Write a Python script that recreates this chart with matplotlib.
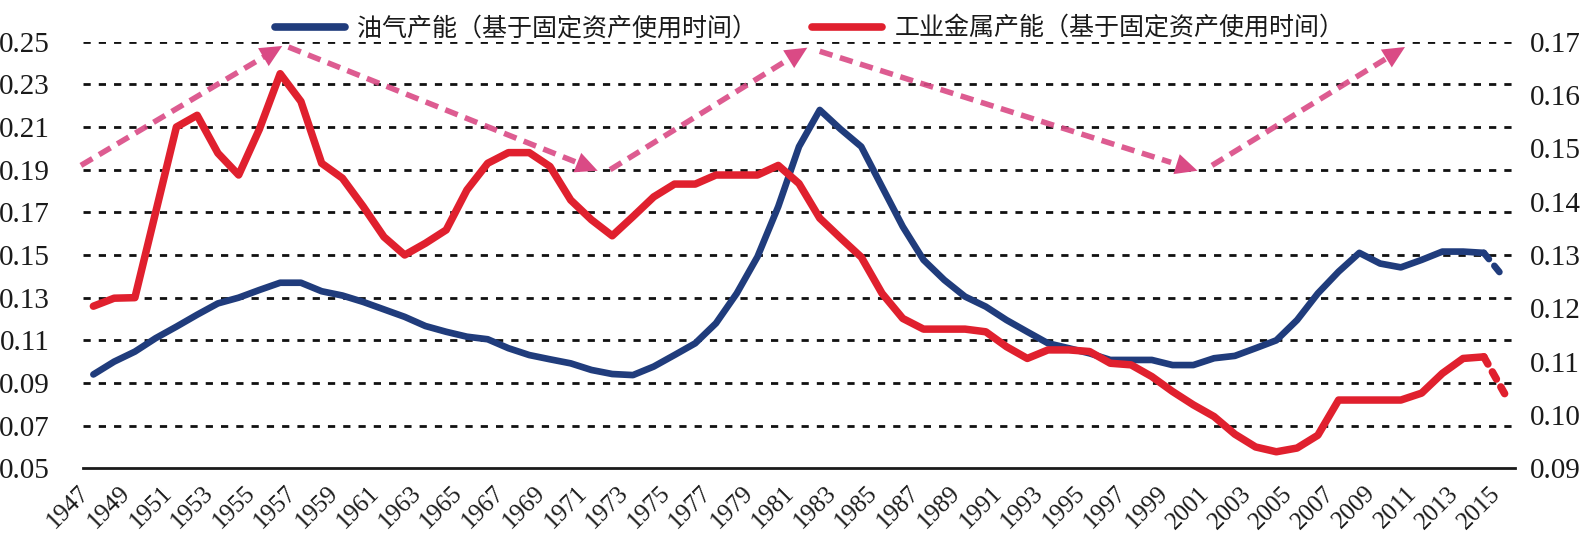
import matplotlib
matplotlib.use("Agg")
import matplotlib.pyplot as plt
from matplotlib.font_manager import FontProperties
import numpy as np

# ---------------- data ----------------
years = list(range(1947, 2016))

# 油气产能 (left axis)
oil_gas = [0.094, 0.100, 0.1047, 0.111, 0.1164, 0.122, 0.1273, 0.130, 0.1336, 0.137,
           0.137, 0.133, 0.131, 0.128, 0.1245, 0.121, 0.1167, 0.114, 0.1117, 0.1105,
           0.1063, 0.1031, 0.1011, 0.0992, 0.0961, 0.0942, 0.0937, 0.0977, 0.1031, 0.1086,
           0.118, 0.132, 0.1492, 0.1727, 0.2008, 0.218, 0.209, 0.2008, 0.182, 0.1633,
           0.1477, 0.1383, 0.1305, 0.1258, 0.1195, 0.114, 0.1086, 0.1063, 0.1039, 0.1008,
           0.1008, 0.1008, 0.0984, 0.0984, 0.1016, 0.1027, 0.1063, 0.110, 0.1195, 0.132,
           0.1422, 0.151, 0.146, 0.1442, 0.1477, 0.1516, 0.1516, 0.151, 0.139]

# 工业金属产能 (right axis)
metals = [0.1204, 0.1219, 0.1220, 0.1380, 0.1540, 0.1562, 0.1491, 0.1450, 0.1536, 0.1640,
          0.1588, 0.1472, 0.1444, 0.1391, 0.1334, 0.1300, 0.1322, 0.1347, 0.1422, 0.1472,
          0.1492, 0.1492, 0.1466, 0.1403, 0.1366, 0.1336, 0.1372, 0.1409, 0.1433, 0.1433,
          0.1450, 0.1450, 0.1450, 0.1468, 0.1434, 0.1369, 0.1332, 0.1296, 0.1228, 0.1181,
          0.1161, 0.1161, 0.1161, 0.1156, 0.1128, 0.1106, 0.1122, 0.1122, 0.1119, 0.1097,
          0.1094, 0.1072, 0.1044, 0.1019, 0.0997, 0.0964, 0.0940, 0.0931, 0.0938, 0.0962,
          0.1028, 0.1028, 0.1028, 0.1028, 0.1041, 0.1078, 0.1106, 0.1109, 0.1040]

left_ticks = [0.05, 0.07, 0.09, 0.11, 0.13, 0.15, 0.17, 0.19, 0.21, 0.23, 0.25]
right_ticks = [0.09, 0.10, 0.11, 0.12, 0.13, 0.14, 0.15, 0.16, 0.17]
xtick_years = years[::2]

label_oil = "油气产能（基于固定资产使用时间）"
label_metal = "工业金属产能（基于固定资产使用时间）"

# trend arrows: (start_year, start_value, end_year, end_value) on left-axis scale
arrows = [(1946.4, 0.192, 1956.1, 0.248),
          (1956.4, 0.2475, 1971.3, 0.1895),
          (1971.9, 0.190, 1981.4, 0.2472),
          (1982.0, 0.2455, 2000.2, 0.1895),
          (2000.9, 0.192, 2010.2, 0.2475)]

# ---------------- style ----------------
BLUE = "#203c7c"
RED = "#e0202e"
PINK = "#da4a85"
serif = "Liberation Serif"

W, H = 1586, 539
fig = plt.figure(figsize=(W / 100, H / 100), dpi=100)
x0, x1, ytop, ybot = 83, 1515, 41.7, 468.3
ax = fig.add_axes([x0 / W, 1 - ybot / H, (x1 - x0) / W, (ybot - ytop) / H])
ax2 = ax.twinx()

ax.set_xlim(1946.5, 2015.5)
ax.set_ylim(0.05, 0.25)
ax2.set_ylim(0.09, 0.17)

# gridlines
for v in left_ticks[1:]:
    ax.axhline(v, color="#111111", lw=2.0, dashes=(2.6, 2.9), zorder=1)

# lines (last segment dotted)
l1, = ax.plot(years[:-1], oil_gas[:-1], color=BLUE, lw=4.8, solid_capstyle="round",
              solid_joinstyle="round", zorder=3)
ax.plot(years[-2:], oil_gas[-2:], color=BLUE, lw=4.8, dashes=(1.2, 1.3),
        dash_capstyle="round", zorder=3)
l2, = ax2.plot(years[:-1], metals[:-1], color=RED, lw=5.4, solid_capstyle="round",
               solid_joinstyle="round", zorder=3)
ax2.plot(years[-2:], metals[-2:], color=RED, lw=5.4, dashes=(1.1, 1.2),
         dash_capstyle="round", zorder=3)

# arrows (given on the left-axis scale, drawn on the right axis)
for (xs, ys, xe, ye) in arrows:
    ys2 = 0.09 + (ys - 0.05) * 0.4
    ye2 = 0.09 + (ye - 0.05) * 0.4
    f = 0.93
    xm = xs + (xe - xs) * f
    ym = ys2 + (ye2 - ys2) * f
    ax2.plot([xs, xm], [ys2, ym], color=PINK, lw=4.0, dashes=(2.4, 1.4),
             alpha=0.9, zorder=4, clip_on=False, solid_capstyle="butt")
    xb = xs + (xe - xs) * 0.88
    yb = ys2 + (ye2 - ys2) * 0.88
    ax2.annotate("", xy=(xe, ye2), xytext=(xb, yb),
                 arrowprops=dict(arrowstyle="-|>,head_length=1.05,head_width=0.5",
                                 mutation_scale=15, color=PINK, lw=0.01,
                                 shrinkA=0, shrinkB=0),
                 zorder=5, annotation_clip=False)

# axes styling
for a in (ax, ax2):
    for s in ("top", "left", "right", "bottom"):
        a.spines[s].set_visible(False)
ax.axhline(0.05, color="#1a1a1a", lw=2.0, zorder=2, clip_on=False)

ax.set_yticks(left_ticks)
ax.set_yticklabels([f"{v:.2f}" for v in left_ticks], fontfamily=serif, fontsize=21)
ax2.set_yticks(right_ticks)
ax2.set_yticklabels([f"{v:.2f}" for v in right_ticks], fontfamily=serif, fontsize=21)
ax.tick_params(axis="y", length=0, pad=24, colors="#1a1a1a")
ax2.tick_params(axis="y", length=0, pad=11, colors="#1a1a1a")

ax.set_xticks(xtick_years)
ax.set_xticklabels([str(y) for y in xtick_years], rotation=45, ha="right",
                   fontfamily=serif, fontsize=18)
ax.tick_params(axis="x", length=0, pad=10, colors="#1a1a1a")

leg = ax2.legend(handles=[l1, l2], labels=[label_oil, label_metal],
                 loc="lower center", bbox_to_anchor=(0.5075, 0.995), ncol=2,
                 frameon=False, prop=FontProperties(family="Noto Sans CJK SC", size=18),
                 handlelength=2.8, handletextpad=0.5, columnspacing=2.2,
                 borderaxespad=0, borderpad=0.1)
for t in leg.get_texts():
    t.set_color("#1a1a1a")
for h in leg.legend_handles:
    h.set_linewidth(5.5)

fig.savefig("out.png", dpi=100)
